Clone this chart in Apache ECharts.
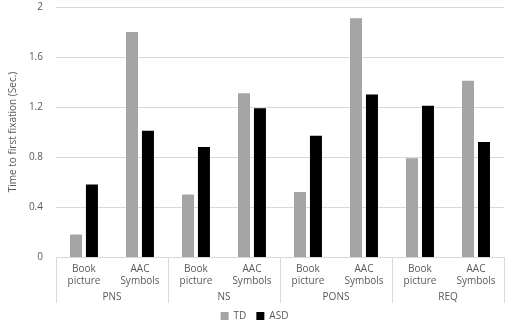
<!DOCTYPE html>
<html><head><meta charset="utf-8">
<script src="https://cdn.jsdelivr.net/npm/echarts@6/dist/echarts.min.js"></script>
<style>html,body{margin:0;padding:0;background:#fff}#c{width:509px;height:322px}</style>
</head><body><div id="c"></div>
<script>
const subCategories = ["Book\npicture","AAC\nSymbols","Book\npicture","AAC\nSymbols","Book\npicture","AAC\nSymbols","Book\npicture","AAC\nSymbols"];
const groups = ["PNS","NS","PONS","REQ"];
const tdValues = [0.18, 1.80, 0.50, 1.31, 0.52, 1.91, 0.79, 1.41];
const asdValues = [0.58, 1.01, 0.88, 1.19, 0.97, 1.30, 1.21, 0.92];
const yTicks = [0, 0.4, 0.8, 1.2, 1.6, 2];

const font = "Open Sans";
const txt = "#595959";
const chart = echarts.init(document.getElementById('c'));
chart.setOption({
  animation: false,
  textStyle: {fontFamily: font},
  grid: {left: 54, right: 5, top: 7, bottom: 65},
  legend: {
    bottom: 1, left: 'center', padding: 0, itemWidth: 8, itemHeight: 8, itemGap: 10,
    icon: 'rect',
    textStyle: {fontFamily: font, fontSize: 10, color: txt},
    data: ['TD','ASD']
  },
  xAxis: [
    {type: 'category', data: subCategories, position: 'bottom',
     axisLine: {lineStyle: {color: '#d9d9d9'}}, axisTick: {show: false},
     axisLabel: {fontSize: 10, color: txt, fontFamily: font, lineHeight: 12, margin: 6, interval: 0}},
    {type: 'category', data: groups, position: 'bottom',
     axisLine: {show: false},
     axisTick: {show: true, length: 46, lineStyle: {color: '#d9d9d9'}},
     axisLabel: {fontSize: 10, color: txt, fontFamily: font, margin: 35, interval: 0}}
  ],
  yAxis: {
    type: 'value', min: 0, max: 2, interval: 0.4,
    name: 'Time to first fixation (Sec.)', nameLocation: 'middle', nameGap: 34,
    nameTextStyle: {fontSize: 10, color: txt, fontFamily: font},
    axisLine: {show: false}, axisTick: {show: false},
    splitLine: {lineStyle: {color: '#d9d9d9'}},
    axisLabel: {fontSize: 10, color: txt, fontFamily: font, margin: 13,
      formatter: v => yTicks.includes(+v.toFixed(1)) ? String(+v.toFixed(1)) : ''}
  },
  series: [
    {name: 'TD', type: 'bar', data: tdValues, xAxisIndex: 0, barWidth: 12, barGap: '33%',
     itemStyle: {color: '#a5a5a5'}},
    {name: 'ASD', type: 'bar', data: asdValues, xAxisIndex: 0, barWidth: 12, barGap: '33%',
     itemStyle: {color: '#000000'}},
    {type: 'bar', xAxisIndex: 1, data: [], silent: true}
  ]
});
</script></body></html>
